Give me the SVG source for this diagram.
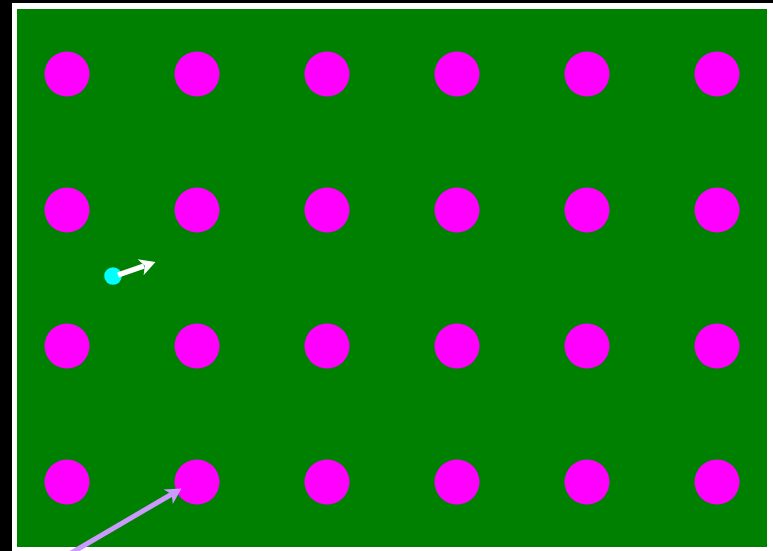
<svg xmlns="http://www.w3.org/2000/svg" width="773" height="551" viewBox="0 0 773 551">
<defs>
<style>
.dot{fill:#ff00ff}
</style>
</defs>
<rect x="0" y="0" width="773" height="551" fill="#000000"/>
<rect x="12" y="3" width="770" height="560" fill="#ffffff"/>
<rect x="17" y="9" width="750" height="538" fill="#008000"/>
<g id="dots">
<g id="r1"><circle class="dot" cx="67" cy="74" r="22.5"/><circle class="dot" cx="197" cy="74" r="22.5"/><circle class="dot" cx="327" cy="74" r="22.5"/><circle class="dot" cx="457" cy="74" r="22.5"/><circle class="dot" cx="587" cy="74" r="22.5"/><circle class="dot" cx="717" cy="74" r="22.5"/></g>
<g id="r2"><circle class="dot" cx="67" cy="210" r="22.5"/><circle class="dot" cx="197" cy="210" r="22.5"/><circle class="dot" cx="327" cy="210" r="22.5"/><circle class="dot" cx="457" cy="210" r="22.5"/><circle class="dot" cx="587" cy="210" r="22.5"/><circle class="dot" cx="717" cy="210" r="22.5"/></g>
<g id="r3"><circle class="dot" cx="67" cy="346" r="22.5"/><circle class="dot" cx="197" cy="346" r="22.5"/><circle class="dot" cx="327" cy="346" r="22.5"/><circle class="dot" cx="457" cy="346" r="22.5"/><circle class="dot" cx="587" cy="346" r="22.5"/><circle class="dot" cx="717" cy="346" r="22.5"/></g>
<g id="r4"><circle class="dot" cx="67" cy="482" r="22.5"/><circle class="dot" cx="197" cy="482" r="22.5"/><circle class="dot" cx="327" cy="482" r="22.5"/><circle class="dot" cx="457" cy="482" r="22.5"/><circle class="dot" cx="587" cy="482" r="22.5"/><circle class="dot" cx="717" cy="482" r="22.5"/></g>
</g>
<g id="agent"><circle cx="113" cy="276" r="8.8" fill="#00ffff"/></g>
<g id="connectors">
<line x1="118" y1="275" x2="144" y2="266" stroke="#ffffff" stroke-width="5.5"/>
<polygon points="155.5,262 143.6,275.3 144.8,265.8 137.6,259.2" fill="#ffffff"/>
<line x1="66" y1="556" x2="172" y2="494" stroke="#cc99ff" stroke-width="5"/>
<polygon points="181.5,488.5 172.8,504 171.7,494.1 163.4,489.6" fill="#cc99ff"/>
</g>
</svg>
